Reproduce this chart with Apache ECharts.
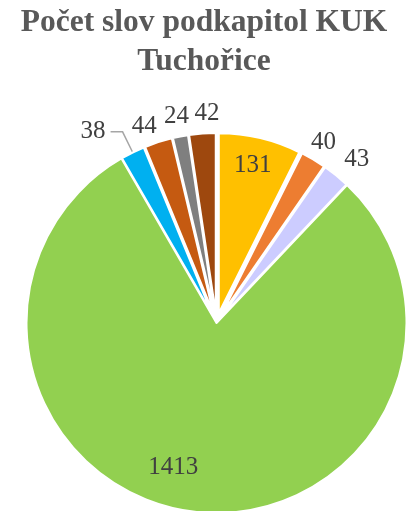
<!DOCTYPE html>
<html>
<head>
<meta charset="utf-8">
<script src="https://cdn.jsdelivr.net/npm/echarts@6/dist/echarts.min.js"></script>
<style>
  html, body { margin: 0; padding: 0; background: #fff; }
  #chart { width: 408px; height: 511px; }
</style>
</head>
<body>
<div id="chart"></div>
<script>
// slice order clockwise from 12 o'clock
const sliceValues = [131, 40, 43, 1413, 38, 44, 24, 42];
const sliceColors = ['#FFC000', '#ED7D31', '#CCCCFF', '#92D050', '#00B0F0', '#C55A11', '#7F7F7F', '#9E480E'];
const bigIndex = 3;          // the large green slice, not pulled out
const innerLabelIdx = [0, 3]; // labels drawn inside their slice
const leaderLabelIdx = 4;     // label with a leader line

const FONT = '"Liberation Serif", "Times New Roman", serif';
const center = [216.5, 323];
const hidden = { color: 'rgba(0,0,0,0)', borderWidth: 0 };

// small nudges so labels sit where Excel put them
const labelNudge = { 0: [-2, 4], 3: [-24, -20], 2: [8, 0], 5: [-8, 3], 7: [6, 0] };

function items(build) {
  return sliceValues.map((v, i) => Object.assign({ value: v }, build(i)));
}

const labelText = { fontFamily: FONT, fontSize: 25, color: '#404040', formatter: '{c}' };

const chart = echarts.init(document.getElementById('chart'));
chart.setOption({
  backgroundColor: '#fff',
  animation: false,
  title: {
    text: 'Počet slov podkapitol KUK\nTuchořice',
    left: 'center',
    top: 3,
    padding: [0, 18, 0, 0],
    textStyle: {
      fontFamily: FONT, fontWeight: 'bold', fontSize: 31.5,
      lineHeight: 39, color: '#595959'
    }
  },
  series: [
    {
      // big slice, full radius
      type: 'pie', center, radius: 190, silent: true,
      label: { show: false }, labelLine: { show: false },
      data: items(i => ({
        itemStyle: i === bigIndex
          ? { color: sliceColors[i], borderColor: '#fff', borderWidth: 2 }
          : hidden
      }))
    },
    {
      // small slices, pulled out
      type: 'pie', center, radius: 180, silent: true,
      selectedMode: 'multiple', selectedOffset: 10,
      avoidLabelOverlap: false,
      label: { show: false },
      labelLine: { show: false },
      select: { itemStyle: { borderColor: '#fff', borderWidth: 2 } },
      data: items(i => {
        if (i === bigIndex) return { itemStyle: hidden };
        const d = {
          selected: true,
          itemStyle: { color: sliceColors[i], borderColor: '#fff', borderWidth: 2 }
        };
        if (i === leaderLabelIdx) {
          d.label = Object.assign({ show: true, position: 'outside', distanceToLabelLine: 5 }, labelText);
          d.labelLine = { show: true, length: 23, length2: 12, lineStyle: { color: '#A6A6A6', width: 1.5 } };
        }
        return d;
      })
    },
    {
      // ring carrying the outside labels
      type: 'pie', center, radius: [195, 219], silent: true, z: 5,
      avoidLabelOverlap: false, labelLine: { show: false },
      data: items(i => ({
        itemStyle: hidden,
        label: Object.assign({
          show: i !== leaderLabelIdx && innerLabelIdx.indexOf(i) < 0,
          position: 'inside', offset: labelNudge[i] || [0, 0]
        }, labelText)
      }))
    },
    {
      // ring carrying the inside labels
      type: 'pie', center, radius: [140, 186], silent: true, z: 5,
      avoidLabelOverlap: false, labelLine: { show: false },
      data: items(i => ({
        itemStyle: hidden,
        label: Object.assign({
          show: innerLabelIdx.indexOf(i) >= 0,
          position: 'inside', offset: labelNudge[i] || [0, 0]
        }, labelText)
      }))
    }
  ]
});
</script>
</body>
</html>
